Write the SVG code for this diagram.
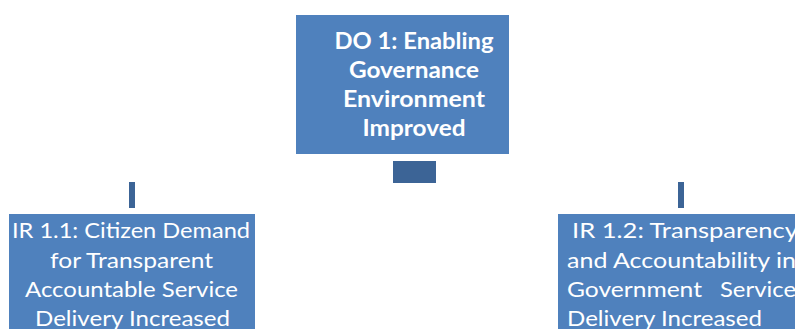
<svg xmlns="http://www.w3.org/2000/svg" width="795" height="329" viewBox="0 0 795 329">
<style>
.box{fill:#4f81bd}
.conn{fill:#3c6496}
.t{font-family:Lato,"Open Sans","Liberation Sans",sans-serif;font-size:22px;fill:#ffffff}
.b{font-weight:bold}
</style>
<rect width="795" height="329" fill="#ffffff"/>
<g id="connectors">
<rect class="conn" x="393" y="161" width="43" height="22"/>
<rect class="conn" x="129" y="182" width="6" height="26"/>
<rect class="conn" x="678" y="182" width="6" height="26"/>
</g>
<g id="do1">
<rect class="box" x="296" y="15" width="213" height="139"/>
<text class="t b" text-anchor="middle" x="414" y="49" textLength="159" lengthAdjust="spacingAndGlyphs">DO 1: Enabling</text>
<text class="t b" text-anchor="middle" x="414" y="78" textLength="130" lengthAdjust="spacingAndGlyphs">Governance</text>
<text class="t b" text-anchor="middle" x="414" y="107" textLength="142" lengthAdjust="spacingAndGlyphs">Environment</text>
<text class="t b" text-anchor="middle" x="414" y="136" textLength="103" lengthAdjust="spacingAndGlyphs">Improved</text>
</g>
<g id="ir11">
<rect class="box" x="9" y="214" width="246" height="115"/>
<text class="t" x="12" y="238" textLength="238" lengthAdjust="spacingAndGlyphs">IR 1.1: Citizen Demand</text>
<text class="t" x="50" y="268" textLength="163" lengthAdjust="spacingAndGlyphs">for Transparent</text>
<text class="t" x="25" y="297" textLength="213" lengthAdjust="spacingAndGlyphs">Accountable Service</text>
<text class="t" x="35" y="326" textLength="195" lengthAdjust="spacingAndGlyphs">Delivery Increased</text>
</g>
<g id="ir12">
<rect class="box" x="558" y="214" width="237" height="115"/>
<text class="t" x="572" y="238" textLength="226" lengthAdjust="spacingAndGlyphs">IR 1.2: Transparency</text>
<text class="t" x="567" y="268" textLength="229" lengthAdjust="spacingAndGlyphs">and Accountability in</text>
<text class="t" x="567" y="297" textLength="135" lengthAdjust="spacingAndGlyphs">Government</text>
<text class="t" x="720" y="297" textLength="76" lengthAdjust="spacingAndGlyphs">Service</text>
<text class="t" x="567" y="326" textLength="195" lengthAdjust="spacingAndGlyphs">Delivery Increased</text>
</g>
</svg>
